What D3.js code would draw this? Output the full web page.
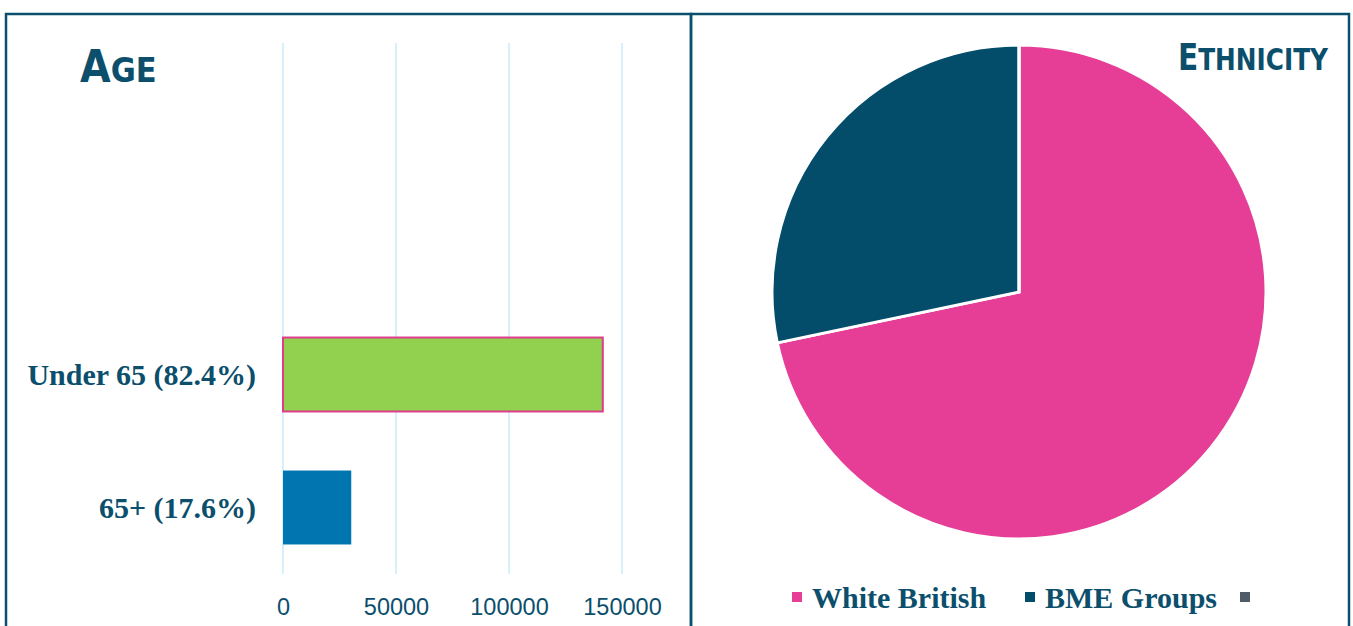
<!DOCTYPE html>
<html lang="en">
  <head>
    <meta charset="utf-8">
    <title>Age and Ethnicity</title>
    <script src="https://cdn.jsdelivr.net/npm/d3@7"></script>
    <style>
      body { margin: 0; background: #fff; }
      .panel { fill: none; stroke: #0b4f6c; stroke-width: 2.5; }
      .grid { stroke: #c8ecfa; stroke-width: 1.5; }
      .cat { font-family: "Liberation Serif", serif; font-weight: bold; font-size: 30px; fill: #0b4f6c; }
      .tick text { font-family: "Liberation Sans", Arial, sans-serif; font-size: 23.5px; fill: #0b4f6c; }
      .title { font-family: "DejaVu Sans Condensed", "DejaVu Sans", sans-serif; font-weight: bold; fill: #0b4f6c; }
      .leg { font-family: "Liberation Serif", serif; font-weight: bold; font-size: 30px; fill: #0b4f6c; }
    </style>
  </head>
  <body>
    <script>
      // age bars
      var ageCats = ["Under 65 (82.4%)", "65+ (17.6%)"];
      var ageValues = [141500, 30200];
      var ageTicks = [0, 50000, 100000, 150000];

      // ethnicity pie
      var ethCats = ["White British", "BME Groups", ""];
      var ethValues = [71.7, 28.3, 0];
      var ethColors = ["#e63e97", "#034c6a", "#4f5b66"];

      var w = 1353, h = 626;
      var svg = d3.select("body").append("svg")
                  .attr("width", w)
                  .attr("height", h);

      // panel frames
      svg.append("rect").attr("class", "panel")
         .attr("x", 6).attr("y", 14).attr("width", 685).attr("height", 640);
      svg.append("rect").attr("class", "panel")
         .attr("x", 691).attr("y", 14).attr("width", 658).attr("height", 640);

      // ---- Age chart ----
      var xScale = d3.scaleLinear()
                     .domain([0, 150000])
                     .range([283, 622]);
      var yScale = d3.scaleBand()
                     .domain(ageCats)
                     .range([308, 574])
                     .paddingInner(0.444)
                     .paddingOuter(0.222);

      svg.selectAll(".grid")
         .data(ageTicks)
         .enter().append("line")
         .attr("class", "grid")
         .attr("x1", function(d) { return xScale(d); })
         .attr("x2", function(d) { return xScale(d); })
         .attr("y1", 43)
         .attr("y2", 574);

      var xAxis = d3.axisBottom(xScale)
                    .tickValues(ageTicks)
                    .tickSize(0)
                    .tickPadding(0)
                    .tickFormat(d3.format("d"));
      var gx = svg.append("g")
                  .attr("transform", "translate(0,598)")
                  .call(xAxis);
      gx.select(".domain").remove();

      svg.selectAll(".bar")
         .data(ageValues)
         .enter().append("rect")
         .attr("class", "bar")
         .attr("x", xScale(0))
         .attr("y", function(d, i) { return yScale(ageCats[i]); })
         .attr("width", function(d) { return xScale(d) - xScale(0); })
         .attr("height", yScale.bandwidth())
         .attr("fill", function(d, i) { return i == 0 ? "#92d050" : "#0075b0"; })
         .attr("stroke", function(d, i) { return i == 0 ? "#e03c8c" : "none"; })
         .attr("stroke-width", 2);

      svg.selectAll(".cat")
         .data(ageCats)
         .enter().append("text")
         .attr("class", "cat")
         .attr("x", 256)
         .attr("y", function(d) { return yScale(d) + yScale.bandwidth() / 2; })
         .attr("dy", "0.35em")
         .attr("text-anchor", "end")
         .text(function(d) { return d; });

      var t1 = svg.append("text").attr("class", "title")
                  .attr("x", 80).attr("y", 82);
      t1.append("tspan").attr("font-size", 44).text("A");
      t1.append("tspan").attr("font-size", 34).text("GE");

      // ---- Ethnicity pie ----
      var cx = 1019, cy = 292, r = 247;
      var pie = d3.pie().sort(null).value(function(d) { return d; });
      var arc = d3.arc().innerRadius(0).outerRadius(r);

      svg.append("g")
         .attr("transform", "translate(" + cx + "," + cy + ")")
         .selectAll("path")
         .data(pie(ethValues))
         .enter().append("path")
         .attr("d", arc)
         .attr("fill", function(d, i) { return ethColors[i]; })
         .attr("stroke", "#fff")
         .attr("stroke-width", 3);

      var t2 = svg.append("text").attr("class", "title")
                  .attr("x", 1328).attr("y", 70)
                  .attr("text-anchor", "end")
                  .attr("textLength", 150)
                  .attr("lengthAdjust", "spacingAndGlyphs");
      t2.append("tspan").attr("font-size", 37).text("E");
      t2.append("tspan").attr("font-size", 31).text("THNICITY");

      // legend
      var legX = [792, 1025, 1240];
      var leg = svg.selectAll(".legItem")
                   .data(ethCats)
                   .enter().append("g")
                   .attr("class", "legItem")
                   .attr("transform", function(d, i) { return "translate(" + legX[i] + ",597)"; });
      leg.append("rect")
         .attr("x", 0).attr("y", -5)
         .attr("width", 10).attr("height", 10)
         .attr("fill", function(d, i) { return ethColors[i]; });
      leg.append("text")
         .attr("class", "leg")
         .attr("x", 20)
         .attr("dy", "0.35em")
         .text(function(d) { return d; });
    </script>
  </body>
</html>
